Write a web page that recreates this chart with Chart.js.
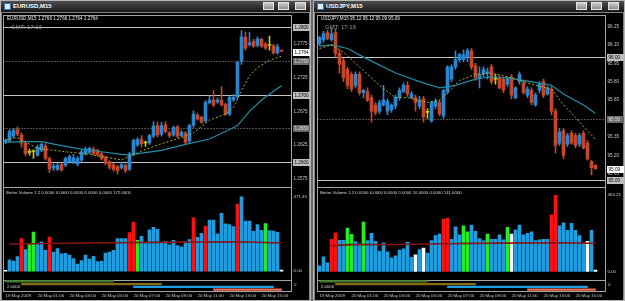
<!DOCTYPE html>
<html>
<head>
<meta charset="utf-8">
<title>EURUSD / USDJPY M15</title>
<script src="https://cdn.jsdelivr.net/npm/chart.js@4.4.1/dist/chart.umd.min.js"></script>
<style>
  html, body { margin: 0; padding: 0; }
  body { width: 625px; height: 301px; overflow: hidden; background: #6a6a6a; position: relative;
         font-family: "Liberation Sans", Arial, sans-serif; }
  .win { position: absolute; top: 0; height: 301px; background: #858585; box-shadow: inset 0 0 0 1px #b4b4b4; }
  .title { position: absolute; left: 1px; right: 1px; top: 1px; height: 11px; box-sizing: border-box;
           background: linear-gradient(#505050, #161616); color: #fff; font-weight: bold; font-size: 6px;
           line-height: 11px; padding-left: 12px; }
  .icon { position: absolute; left: 3px; top: 2px; width: 7px; height: 7px; box-sizing: border-box;
          background: #d8ecff; border: 1px solid #3b6fb0; }
  .btn { position: absolute; top: 2px; width: 11px; height: 8px; box-sizing: border-box;
         background: linear-gradient(#cfcfcf, #8a8a8a); border: 1px solid #e4e4e4; }
  .inner { position: absolute; left: 2px; right: 2px; top: 13px; bottom: 1px; background: #000; }
  .pane { position: absolute; border: 1px solid #a4a4a4; box-sizing: border-box; }
  canvas { position: absolute; }
  .txt { position: absolute; white-space: nowrap; line-height: 1; }
</style>
</head>
<body>
<script>
const SLOTS = 72; // 70 bars plus the empty shift at the right edge

const timeLabels = ['19 May 2009', '20 May 01:00', '20 May 03:00', '20 May 05:00', '20 May 07:00',
                    '20 May 09:00', '20 May 11:00', '20 May 13:00', '20 May 15:00'];
const timeTickBars = [0, 8, 16, 24, 32, 40, 48, 56, 64];

// EURUSD M15: open, high, low, close
const eurusdBars = [
  [1.2630,1.2633,1.2627,1.2632],[1.2631,1.2648,1.2629,1.2645],[1.2638,1.2650,1.2636,1.2647],[1.2648,1.2652,1.2639,1.2641],
  [1.2640,1.2643,1.2622,1.2628],[1.2628,1.2631,1.2609,1.2612],[1.2614,1.2619,1.2610,1.2614],[1.2615,1.2618,1.2605,1.2615],
  [1.2610,1.2625,1.2608,1.2622],[1.2617,1.2628,1.2615,1.2626],[1.2624,1.2627,1.2603,1.2605],[1.2605,1.2607,1.2584,1.2589],
  [1.2591,1.2597,1.2587,1.2594],[1.2589,1.2598,1.2587,1.2595],[1.2596,1.2598,1.2586,1.2588],[1.2595,1.2607,1.2593,1.2605],
  [1.2600,1.2610,1.2598,1.2608],[1.2600,1.2611,1.2597,1.2606],[1.2597,1.2608,1.2594,1.2605],[1.2603,1.2618,1.2600,1.2615],
  [1.2612,1.2622,1.2610,1.2619],[1.2614,1.2622,1.2612,1.2620],[1.2619,1.2622,1.2610,1.2612],[1.2617,1.2619,1.2609,1.2611],
  [1.2612,1.2614,1.2603,1.2605],[1.2607,1.2609,1.2596,1.2598],[1.2600,1.2602,1.2589,1.2592],[1.2596,1.2598,1.2586,1.2589],
  [1.2593,1.2595,1.2582,1.2587],[1.2591,1.2600,1.2589,1.2596],[1.2595,1.2597,1.2584,1.2587],[1.2589,1.2614,1.2587,1.2612],
  [1.2612,1.2634,1.2609,1.2632],[1.2625,1.2636,1.2623,1.2633],[1.2633,1.2639,1.2622,1.2627],[1.2628,1.2631,1.2623,1.2628],
  [1.2628,1.2641,1.2626,1.2639],[1.2638,1.2660,1.2636,1.2653],[1.2654,1.2659,1.2637,1.2640],[1.2641,1.2659,1.2638,1.2654],
  [1.2655,1.2660,1.2643,1.2645],[1.2643,1.2645,1.2636,1.2639],[1.2640,1.2653,1.2638,1.2651],[1.2652,1.2654,1.2636,1.2638],
  [1.2639,1.2647,1.2637,1.2644],[1.2643,1.2645,1.2626,1.2629],[1.2631,1.2656,1.2628,1.2654],[1.2654,1.2676,1.2651,1.2671],
  [1.2669,1.2672,1.2662,1.2664],[1.2666,1.2668,1.2657,1.2659],[1.2661,1.2691,1.2659,1.2688],[1.2688,1.2698,1.2686,1.2692],
  [1.2692,1.2706,1.2682,1.2685],[1.2689,1.2695,1.2687,1.2692],[1.2692,1.2712,1.2683,1.2685],[1.2685,1.2687,1.2669,1.2671],
  [1.2671,1.2698,1.2669,1.2696],[1.2692,1.2700,1.2690,1.2696],[1.2696,1.2750,1.2694,1.2748],[1.2750,1.2795,1.2745,1.2786],
  [1.2785,1.2793,1.2766,1.2769],[1.2774,1.2793,1.2772,1.2777],[1.2779,1.2782,1.2770,1.2772],[1.2773,1.2786,1.2771,1.2783],
  [1.2782,1.2784,1.2770,1.2772],[1.2775,1.2778,1.2767,1.2769],[1.2773,1.2787,1.2766,1.2773],[1.2773,1.2775,1.2760,1.2762],
  [1.2762,1.2775,1.2760,1.2771],[1.2766,1.2766,1.2764,1.2764]
];
// moving averages: [bar, value]
const eurusdFastMA = [[0,1.2633],[3,1.2636],[8,1.2620],[15,1.2615],[20,1.2612],[24,1.2608],[29,1.2603],[31,1.2608],
  [34,1.2616],[39,1.2627],[44,1.2636],[47,1.2643],[51,1.2662],[55,1.2671],[57,1.2681],[59,1.2706],[61,1.2728],
  [63,1.2740],[66,1.2751],[69,1.2757]];
const eurusdSlowMA = [[0,1.2629],[4,1.2630],[9,1.2630],[14,1.2624],[19,1.2619],[24,1.2615],[28,1.2612],[31,1.2610],
  [34,1.2613],[39,1.2617],[45,1.2626],[51,1.2634],[56,1.2648],[58,1.2654],[61,1.2675],[64,1.2692],[67,1.2705],[69,1.2713]];
const eurusdTicks = [1.2800,1.2775,1.2750,1.2725,1.2700,1.2675,1.2650,1.2625,1.2600,1.2575];
const eurusdSolidLevels = [1.2800, 1.2700, 1.2600];
const eurusdDottedLevels = [1.2750, 1.2650];

const eurusdVolume = [5,71,63,92,206,137,168,248,172,185,132,215,120,143,109,113,101,80,44,67,101,76,93,61,63,114,120,132,
  206,206,206,244,311,195,221,177,261,278,265,181,189,166,195,162,154,185,200,338,214,240,286,324,324,236,366,299,294,282,
  425,471,317,317,252,294,259,301,257,254,246,6];
const eurusdClimax = [4,11,31,32,47,50,58];
const eurusdChurn = [6,7,33,65];
const eurusdLow = [0,69];
const eurusdVolAvg = [[1,172],[16,176],[36,182],[58,186],[61,184],[69,178]];
const eurusdVolTop = 471.45;

// USDJPY M15: open, high, low, close
const usdjpyBars = [
  [96.11,96.17,96.09,96.16],[96.14,96.21,96.12,96.19],[96.20,96.22,96.14,96.15],[96.14,96.23,96.13,96.19],
  [96.20,96.23,96.00,96.03],[96.03,96.06,95.87,95.94],[95.97,95.99,95.80,95.83],[95.90,95.92,95.74,95.77],
  [95.86,95.88,95.72,95.74],[95.77,95.88,95.75,95.86],[95.86,95.88,95.69,95.71],[95.71,95.74,95.67,95.73],
  [95.72,95.75,95.64,95.65],[95.67,95.69,95.47,95.56],[95.61,95.63,95.53,95.55],[95.56,95.65,95.54,95.63],
  [95.61,95.77,95.60,95.65],[95.56,95.66,95.53,95.64],[95.57,95.62,95.55,95.61],[95.60,95.69,95.58,95.67],
  [95.67,95.75,95.65,95.73],[95.72,95.79,95.71,95.77],[95.77,95.80,95.68,95.70],[95.67,95.72,95.66,95.70],
  [95.67,95.69,95.56,95.63],[95.60,95.68,95.58,95.65],[95.66,95.68,95.47,95.51],[95.55,95.58,95.50,95.55],
  [95.48,95.64,95.47,95.63],[95.60,95.66,95.58,95.64],[95.63,95.65,95.52,95.54],[95.52,95.74,95.50,95.73],
  [95.72,95.93,95.70,95.92],[95.82,95.94,95.80,95.92],[95.92,96.05,95.90,95.98],[95.98,96.03,95.96,96.02],
  [95.98,96.06,95.96,96.02],[96.00,96.07,95.96,96.05],[96.05,96.07,95.90,95.92],[95.93,95.95,95.81,95.83],
  [95.83,95.92,95.75,95.86],[95.86,95.92,95.84,95.90],[95.87,95.91,95.82,95.88],[95.92,95.94,95.78,95.80],
  [95.82,95.86,95.78,95.82],[95.83,95.85,95.74,95.75],[95.82,95.84,95.71,95.73],[95.78,95.84,95.76,95.83],
  [95.84,95.86,95.66,95.69],[95.67,95.76,95.66,95.75],[95.80,95.88,95.78,95.86],[95.79,95.81,95.70,95.71],
  [95.69,95.76,95.67,95.74],[95.73,95.75,95.61,95.63],[95.61,95.71,95.60,95.69],[95.73,95.80,95.71,95.78],
  [95.80,95.82,95.67,95.69],[95.70,95.76,95.69,95.75],[95.74,95.76,95.53,95.56],[95.56,95.58,95.22,95.28],
  [95.30,95.42,95.28,95.39],[95.40,95.42,95.17,95.20],[95.29,95.38,95.27,95.36],[95.38,95.40,95.29,95.30],
  [95.36,95.38,95.26,95.28],[95.29,95.38,95.27,95.36],[95.38,95.40,95.25,95.26],[95.30,95.32,95.16,95.17],
  [95.15,95.16,95.04,95.10],[95.12,95.12,95.09,95.09]
];
const usdjpyFastMA = [[0,96.07],[3,96.10],[6,96.04],[10,95.92],[15,95.77],[19,95.67],[22,95.67],[27,95.63],[30,95.65],
  [33,95.74],[35,95.81],[39,95.86],[43,95.87],[47,95.84],[54,95.77],[58,95.74],[61,95.61],[64,95.51],[67,95.40],[69,95.33]];
const usdjpySlowMA = [[0,96.09],[3,96.10],[7,96.07],[11,96.00],[19,95.87],[25,95.80],[30,95.75],[34,95.77],[39,95.82],
  [43,95.84],[47,95.83],[51,95.81],[58,95.77],[61,95.70],[66,95.61],[69,95.54]];
const usdjpyTicks = [96.25,96.10,95.95,95.80,95.65,95.50,95.35,95.20,95.05];
const usdjpySolidLevels = [96.00, 95.00];
const usdjpyDottedLevels = [95.50];

const usdjpyVolume = [36,93,55,204,246,198,198,276,236,189,175,313,196,242,192,128,181,124,86,99,135,143,185,90,105,
  139,149,116,196,227,238,332,337,204,284,232,290,252,295,255,208,194,238,204,204,232,200,280,238,265,295,232,242,252,
  196,200,204,204,360,484,290,309,261,305,261,227,181,192,261,8];
const usdjpyClimax = [3,4,31,32,58,59];
const usdjpyChurn = [7,8,11,36,37,42,47];
const usdjpyLow = [24,26,48,67,69];
const usdjpyVolAvg = [[3,164],[8,170],[20,171],[30,176],[45,180],[60,182],[69,178]];
const usdjpyVolTop = 484.25;

// trading sessions strip
const sessionNames = ['Sydney', 'Tokyo', 'London', 'New York'];
const sessionStart = [0, 4, 32, 52];
const sessionEnd = [27, 39, 67, 69];

const BULL = '#2a86cf', BEAR = '#c4472c', DOJI = '#c9c91a';
const VOL_NORMAL = '#1e9ede', VOL_CLIMAX = '#ff1010', VOL_CHURN = '#22ee22', VOL_LOW = '#ffffff';
const SESSION_COLORS = ['#3c7a24', '#8a6a14', '#1e9ede', '#f07052'];
const AXIS_TEXT = '#c8c8c8';

Chart.defaults.font.family = '"Liberation Sans", Arial, sans-serif';
Chart.defaults.animation = false;
Chart.defaults.responsive = false;
Chart.defaults.plugins.legend.display = false;
Chart.defaults.plugins.tooltip.enabled = false;

const slotLabels = Array.from({length: SLOTS}, (_, i) => i);

function spread(pairs) {
  const out = new Array(SLOTS).fill(null);
  pairs.forEach(([i, v]) => { out[i] = v; });
  return out;
}

const levelPlugin = {
  id: 'levels',
  beforeDatasetsDraw(chart, args, o) {
    const {ctx, chartArea: a} = chart;
    const y = chart.scales.y;
    const line = (v, color, dash) => {
      const py = Math.round(y.getPixelForValue(v)) + 0.5;
      ctx.strokeStyle = color;
      ctx.setLineDash(dash);
      ctx.beginPath();
      ctx.moveTo(a.left, py);
      ctx.lineTo(a.right, py);
      ctx.stroke();
    };
    ctx.save();
    ctx.lineWidth = 1;
    o.solid.forEach(v => line(v, '#c4c4c4', []));
    o.dotted.forEach(v => line(v, '#9a9a9a', [1, 2]));
    ctx.restore();
  },
  afterDraw(chart, args, o) {
    const {ctx, chartArea: a} = chart;
    const y = chart.scales.y;
    const box = (v, fill, text) => {
      const py = Math.round(y.getPixelForValue(v));
      const x0 = Math.round(a.right) + 1, w = chart.width - x0 - 1;
      ctx.fillStyle = fill;
      ctx.fillRect(x0, py - 3, w, 7);
      ctx.fillStyle = text;
      ctx.font = '4.6px "Liberation Sans"';
      ctx.textBaseline = 'middle';
      ctx.textAlign = 'left';
      ctx.fillText(v.toFixed(o.dec), x0 + 1.5, py + 0.5);
    };
    ctx.save();
    o.solid.forEach(v => box(v, '#bdbdbd', '#000'));
    o.dotted.forEach(v => box(v, '#6a6a6a', '#e0e0e0'));
    box(o.last, '#ffffff', '#000');
    ctx.restore();
  }
};

function priceChart(canvas, bars, fast, slow, ticks, solid, dotted, min, max, dec) {
  const colors = bars.map(b => b[3] > b[0] ? BULL : (b[3] < b[0] ? BEAR : DOJI));
  new Chart(canvas, {
    type: 'bar',
    plugins: [levelPlugin],
    data: {
      labels: slotLabels,
      datasets: [
        { type: 'line', data: spread(slow), borderColor: '#1d8fa3', borderWidth: 1.2, pointRadius: 0,
          spanGaps: true, order: 1 },
        { type: 'line', data: spread(fast), borderColor: '#b0b020', borderWidth: 1, borderDash: [2, 2],
          pointRadius: 0, spanGaps: true, order: 0 },
        { data: bars.map(b => [b[2], b[1]]), backgroundColor: colors, barThickness: 1, grouped: false, order: 3 },
        { data: bars.map(b => [b[0], b[3]]), backgroundColor: colors, barThickness: 3, minBarLength: 1,
          grouped: false, order: 2 }
      ]
    },
    options: {
      layout: { padding: { left: 0.5, right: 0, top: 0, bottom: 0 } },
      plugins: { levels: { solid, dotted, last: bars[bars.length - 1][3], dec } },
      scales: {
        x: { display: false, offset: true },
        y: {
          position: 'right', min, max,
          grid: { display: false, drawTicks: false }, border: { display: false },
          afterBuildTicks: s => { s.ticks = ticks.map(v => ({ value: v })); },
          afterFit: s => { s.width = 19.5; },
          ticks: { color: AXIS_TEXT, font: { size: 4.6 }, padding: 2, autoSkip: false,
                   callback: v => Number(v).toFixed(dec) }
        }
      }
    }
  });
}

function volumeChart(canvas, vols, climax, churn, low, avg, top, min, max) {
  const colors = vols.map((v, i) => climax.includes(i) ? VOL_CLIMAX : churn.includes(i) ? VOL_CHURN :
                                   low.includes(i) ? VOL_LOW : VOL_NORMAL);
  new Chart(canvas, {
    type: 'bar',
    data: {
      labels: slotLabels,
      datasets: [
        { type: 'line', data: spread(avg), borderColor: '#861414', borderWidth: 1.6, pointRadius: 0,
          spanGaps: true, order: 0 },
        { data: vols, backgroundColor: colors, barThickness: 3, order: 1 }
      ]
    },
    options: {
      layout: { padding: { left: 0.5, right: 0, top: 0, bottom: 0 } },
      scales: {
        x: { display: false, offset: true },
        y: {
          position: 'right', min, max,
          grid: { display: false, drawTicks: false }, border: { display: false },
          afterBuildTicks: s => { s.ticks = [top, 0].map(v => ({ value: v })); },
          afterFit: s => { s.width = 19.5; },
          ticks: { color: AXIS_TEXT, font: { size: 4.4 }, padding: 2, autoSkip: false,
                   callback: v => Number(v).toFixed(2) }
        }
      }
    }
  });
}

function sessionChart(canvas) {
  new Chart(canvas, {
    type: 'bar',
    data: {
      labels: sessionNames,
      datasets: [{ data: sessionStart.map((s, i) => [s, sessionEnd[i]]), backgroundColor: SESSION_COLORS,
                   barThickness: 1.5 }]
    },
    options: {
      indexAxis: 'y',
      layout: { padding: { left: 0.5, right: 0, top: 0, bottom: 0 } },
      scales: {
        x: {
          type: 'linear', min: -0.5, max: SLOTS - 0.5, position: 'bottom',
          grid: { display: false, drawTicks: false }, border: { display: false },
          afterBuildTicks: s => { s.ticks = timeTickBars.map(v => ({ value: v })); },
          afterFit: s => { s.height = 9; },
          ticks: { color: AXIS_TEXT, font: { size: 4.4 }, padding: 2, align: 'start', maxRotation: 0,
                   autoSkip: false, callback: v => timeLabels[timeTickBars.indexOf(v)] }
        },
        y: {
          position: 'right', grid: { display: false }, border: { display: false },
          ticks: { display: false },
          afterFit: s => { s.width = 19.5; }
        }
      }
    }
  });
}

function buildWindow(left, width, cx, symbol, header, volText) {
  const w = document.createElement('div');
  w.className = 'win';
  w.style.left = left + 'px';
  w.style.width = width + 'px';
  w.innerHTML = `
    <div class="title"><div class="icon"></div>${symbol},M15</div>
    <div class="btn" style="left:263px"></div>
    <div class="btn" style="left:278px"></div>
    <div class="btn" style="left:295px"></div>
    <div class="inner"></div>
    <div class="pane" style="left:${cx}px;top:15px;width:289px;height:173px"></div>
    <div class="pane" style="left:${cx}px;top:187px;width:289px;height:94px"></div>
    <div class="pane" style="left:${cx}px;top:280px;width:289px;height:12px"></div>
    <canvas class="price" width="308" height="172" style="left:${cx}px;top:15px"></canvas>
    <canvas class="vol" width="308" height="93" style="left:${cx}px;top:187px"></canvas>
    <canvas class="sess" width="308" height="20" style="left:${cx}px;top:280px"></canvas>
    <div class="txt" style="left:${cx + 4}px;top:17px;font-size:4.6px;color:#e8e8e8">${header}</div>
    <div class="txt" style="left:${cx + 8}px;top:24px;font-size:6px;color:#9a9a9a">GMT: 17:16</div>
    <div class="txt" style="left:${cx + 3}px;top:191px;font-size:4.3px;color:#d8d8d8">${volText}</div>
    <div class="txt" style="left:${cx + 4}px;top:285px;font-size:4.3px;color:#d8d8d8">2.0000</div>
    <div class="txt" style="left:${cx + 291}px;top:283px;font-size:4.4px;color:${AXIS_TEXT}">0</div>`;
  document.body.appendChild(w);
  return {
    price: w.querySelector('canvas.price'),
    vol: w.querySelector('canvas.vol'),
    sess: w.querySelector('canvas.sess')
  };
}

function headerText(symbol, bars, dec) {
  return symbol + ',M15 ' + bars[bars.length - 1].map(v => v.toFixed(dec)).join(' ');
}

const eurWin = buildWindow(0, 311, 3, 'EURUSD', headerText('EURUSD', eurusdBars, 4),
  'Better Volume 1.2 0.0000 0.0000 0.0000 6.0000 0.0000 172.0000');
priceChart(eurWin.price, eurusdBars, eurusdFastMA, eurusdSlowMA, eurusdTicks, eurusdSolidLevels,
  eurusdDottedLevels, 1.25697, 1.28112, 4);
volumeChart(eurWin.vol, eurusdVolume, eurusdClimax, eurusdChurn, eurusdLow, eurusdVolAvg, eurusdVolTop, -27, 503.5);
sessionChart(eurWin.sess);

const jpyWin = buildWindow(313, 312, 4, 'USDJPY', headerText('USDJPY', usdjpyBars, 2),
  'Better Volume 1.2 0.0000 0.0000 0.0000 0.0000 10.0000 0.0000 141.0000');
priceChart(jpyWin.price, usdjpyBars, usdjpyFastMA, usdjpySlowMA, usdjpyTicks, usdjpySolidLevels,
  usdjpyDottedLevels, 94.981, 96.304, 2);
volumeChart(jpyWin.vol, usdjpyVolume, usdjpyClimax, usdjpyChurn, usdjpyLow, usdjpyVolAvg, usdjpyVolTop, -25, 507);
sessionChart(jpyWin.sess);
</script>
</body>
</html>
